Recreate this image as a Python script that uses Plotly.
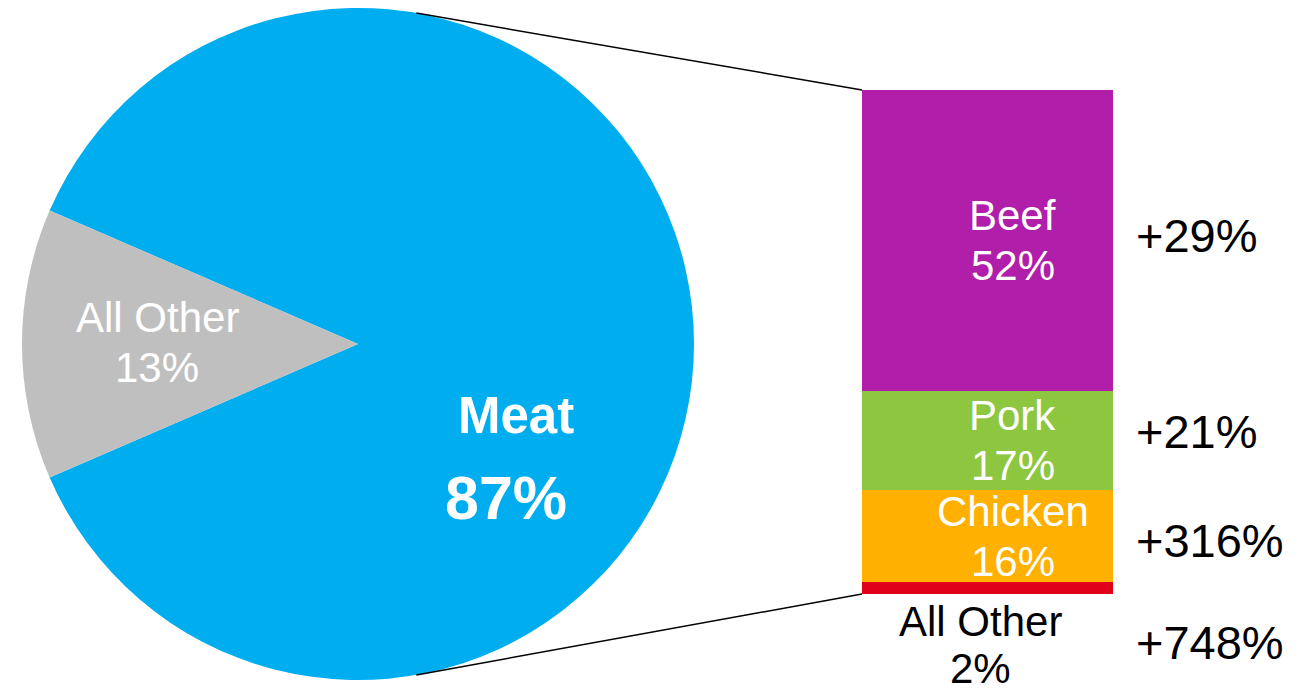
import plotly.graph_objects as go
import math

# ---- data ----
pie_labels = ["Meat", "All Other"]
pie_values = [87, 13]
pie_colors = ["#00AEEF", "#BFBFBF"]

bar_labels = ["Beef", "Pork", "Chicken", "All Other"]
bar_values = [52, 17, 16, 2]
bar_colors = ["#B01EAA", "#8DC63F", "#FFB000", "#E1001A"]
growth_labels = ["+29%", "+21%", "+316%", "+748%"]

W, H = 1307, 688
FONT = "Liberation Sans, Arial, sans-serif"

def px(xp):
    return xp / W

def py(yp):
    return 1 - yp / H

# layout geometry (pixels)
pie_cx, pie_cy, pie_r = 358, 344, 336
bar_x0, bar_x1, bar_top, bar_bot = 862, 1113, 90, 594

fig = go.Figure()

# pie (small slice centred on the left side)
other_share = pie_values[1] / sum(pie_values) * 360
fig.add_trace(go.Pie(
    labels=pie_labels, values=pie_values, sort=False,
    direction="counterclockwise",
    rotation=270 + other_share / 2,
    marker=dict(colors=pie_colors, line=dict(width=0)),
    textinfo="none", hoverinfo="label+percent", showlegend=False,
    domain=dict(x=[px(pie_cx - pie_r), px(pie_cx + pie_r)],
                y=[py(pie_cy + pie_r), py(pie_cy - pie_r)]),
))

# stacked bar (bottom to top)
order = list(range(len(bar_labels)))[::-1]
for i in order:
    fig.add_trace(go.Bar(
        x=["Meat"], y=[bar_values[i]], name=bar_labels[i],
        marker=dict(color=bar_colors[i], line=dict(width=0)),
        showlegend=False, hoverinfo="name+y",
    ))

total = sum(bar_values)
fig.update_layout(
    width=W, height=H,
    margin=dict(l=0, r=0, t=0, b=0),
    paper_bgcolor="white", plot_bgcolor="rgba(0,0,0,0)",
    barmode="stack", bargap=0,
    xaxis=dict(domain=[px(bar_x0), px(bar_x1)], visible=False,
               range=[-0.5, 0.5], fixedrange=True),
    yaxis=dict(domain=[py(bar_bot), py(bar_top)], visible=False,
               range=[0, total], fixedrange=True),
    font=dict(family=FONT),
)

ann = []

def label(x, y, text, size, color, xref="paper", yref="paper", xanchor="center", yshift=0):
    ann.append(dict(x=x, y=y, xref=xref, yref=yref, text=text, showarrow=False,
                    xanchor=xanchor, yanchor="middle", yshift=yshift,
                    font=dict(size=size, color=color, family=FONT)))

# pie labels
label(px(516), py(415), "<b>" + pie_labels[0] + "</b>", 51, "white")
label(px(506), py(498), "<b>" + f"{pie_values[0]}%" + "</b>", 61, "white")
label(px(157), py(318), pie_labels[1], 42, "white")
label(px(157), py(368), f"{pie_values[1]}%", 42, "white")

# bar segment labels (centered in their segment, shifted right)
cum = 0
centers = {}
for i in order:
    centers[i] = cum + bar_values[i] / 2
    cum += bar_values[i]
for i in range(len(bar_labels) - 1):
    label(0.1, centers[i], bar_labels[i], 42, "white", xref="x", yref="y", yshift=25)
    label(0.1, centers[i], f"{bar_values[i]}%", 42, "white", xref="x", yref="y", yshift=-25)
# small "All Other" segment label below bar
label(px(980), py(621), bar_labels[3], 42, "black")
label(px(980), py(668), f"{bar_values[3]}%", 42, "black")

# growth labels
growth_y = [235, 431, 540, 642]
for g, yp in zip(growth_labels, growth_y):
    label(px(1134), py(yp), g, 47, "black", xanchor="left")

fig.update_layout(annotations=ann)

# connector lines from pie edge to bar corners
ang = math.radians(10)
top_pt = (pie_cx + pie_r * math.sin(ang), pie_cy - pie_r * math.cos(ang))
bot_pt = (pie_cx + pie_r * math.sin(ang), pie_cy + pie_r * math.cos(ang))
shapes = [
    dict(type="line", xref="paper", yref="paper",
         x0=px(top_pt[0]), y0=py(top_pt[1]), x1=px(bar_x0), y1=py(bar_top),
         line=dict(color="black", width=1.5)),
    dict(type="line", xref="paper", yref="paper",
         x0=px(bot_pt[0]), y0=py(bot_pt[1]), x1=px(bar_x0), y1=py(bar_bot),
         line=dict(color="black", width=1.5)),
]
fig.update_layout(shapes=shapes)

fig.write_html(
    "out.html",
    config={"displayModeBar": False},
    post_script="document.body.style.margin='0px';document.body.style.overflow='hidden';",
)
